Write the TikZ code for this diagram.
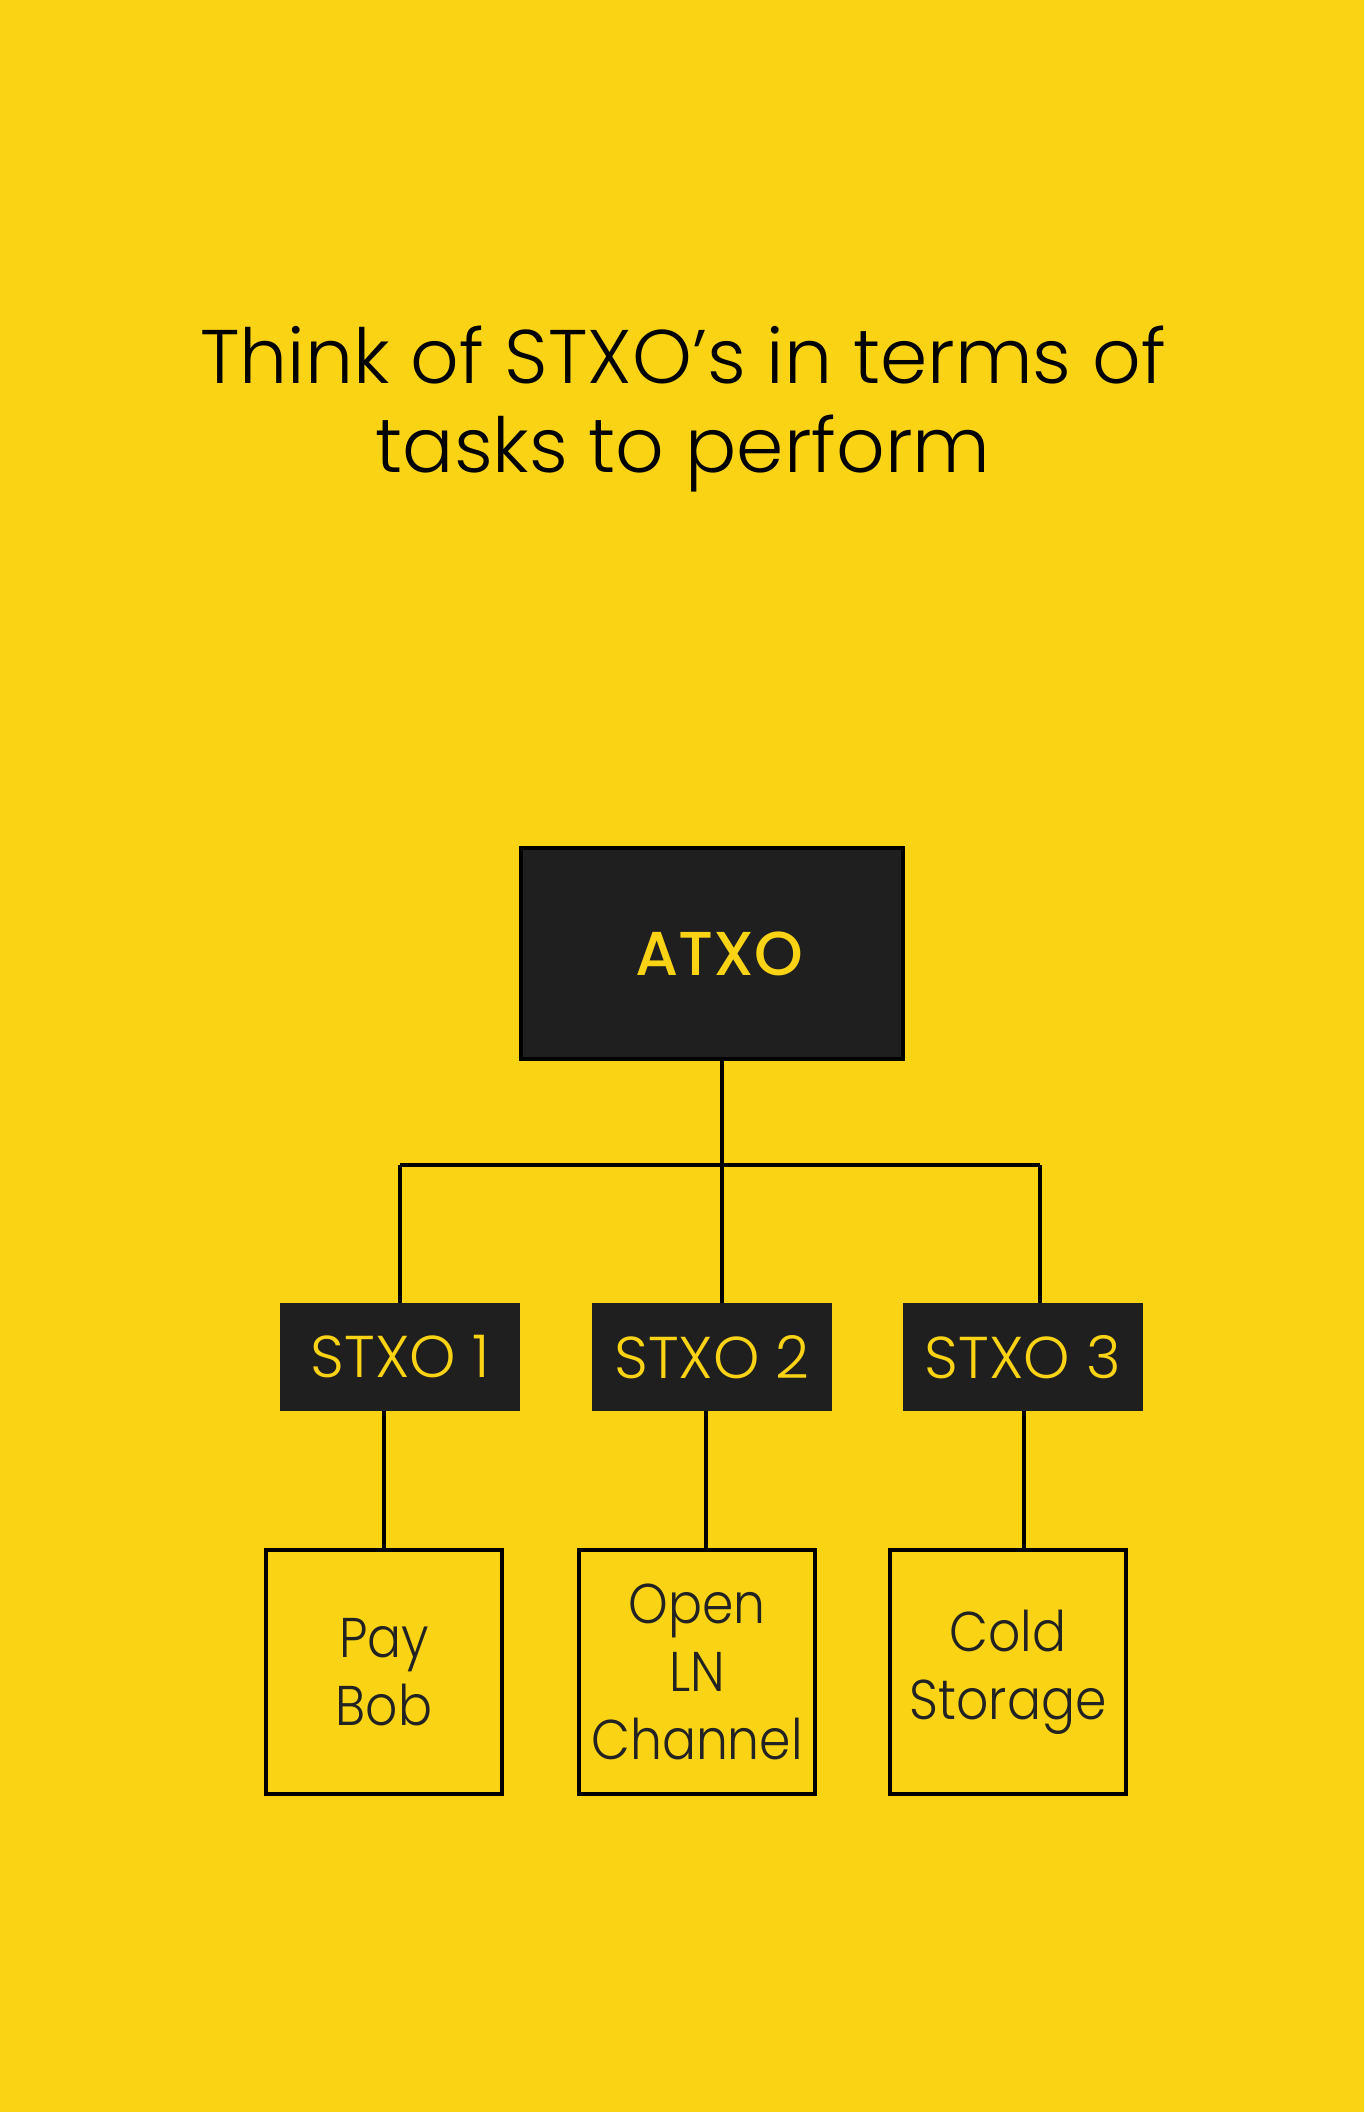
\documentclass[tikz,border=0pt]{standalone}
\usepackage{fontspec}
\newfontfamily\lightfont{Poppins}[UprightFont={* Light}]
\newfontfamily\narrowlight{Poppins}[UprightFont={* Light}, FakeStretch=0.9]
\newfontfamily\medfont{Poppins}[UprightFont={* Medium}]
\definecolor{bgyellow}{RGB}{250,212,20}
\definecolor{boxdark}{RGB}{31,31,31}
\definecolor{inktext}{RGB}{34,34,34}
\tikzset{
  titletext/.style={font=\lightfont\fontsize{38}{44}\selectfont, text=black, inner sep=0pt, anchor=base},
  atxobox/.style={draw=black, line width=2pt, fill=boxdark, minimum width=191pt, minimum height=105.5pt, inner sep=0pt,
    text=bgyellow, font=\medfont\fontsize{31}{36}\selectfont},
  stxobox/.style={fill=boxdark, minimum width=120pt, minimum height=54pt, inner sep=0pt,
    text=bgyellow, font=\lightfont\fontsize{29.5}{34}\selectfont},
  taskbox/.style={draw=black, line width=2pt, minimum width=118pt, minimum height=122pt, inner sep=0pt,
    text=inktext, align=center, font=\narrowlight\fontsize{28}{34}\selectfont},
  link/.style={draw=black, line width=2pt}
}
\begin{document}
\begin{tikzpicture}[x=0.5pt, y=-0.5pt]
\fill[bgyellow] (0,0) rectangle (1364,2112);
\useasboundingbox (0,0) rectangle (1364,2112);
\node[titletext] (title1) at (683,384) {Think of STXO’s in terms of};
\node[titletext] (title2) at (683,473) {tasks to perform};
\node[atxobox] (atxo) at (712,953.5) {\hspace*{7pt}ATXO};
\node[stxobox] (s1) at (400,1357) {STXO 1};
\node[stxobox] (s2) at (712,1357) {STXO 2};
\node[stxobox] (s3) at (1023,1357) {STXO 3};
\node[taskbox] (t1) at (384,1672) {Pay\\Bob};
\node[taskbox] (t2) at (697,1672) {Open\\LN\\Channel};
\node[taskbox] (t3) at (1008,1672) {Cold\\Storage};
\coordinate (j1) at (400,1165);
\coordinate (j2) at (722,1165);
\coordinate (j3) at (1040,1165);
\draw[link] (atxo.south -| j2) -- (j2);
\draw[link] (j1) -- (j3);
\draw[link] (j1) -- (s1.north -| j1);
\draw[link] (j2) -- (s2.north -| j2);
\draw[link] (j3) -- (s3.north -| j3);
\coordinate (k1) at (384,0);
\coordinate (k2) at (706,0);
\coordinate (k3) at (1024,0);
\draw[link] (s1.south -| k1) -- (t1.north -| k1);
\draw[link] (s2.south -| k2) -- (t2.north -| k2);
\draw[link] (s3.south -| k3) -- (t3.north -| k3);
\end{tikzpicture}
\end{document}
